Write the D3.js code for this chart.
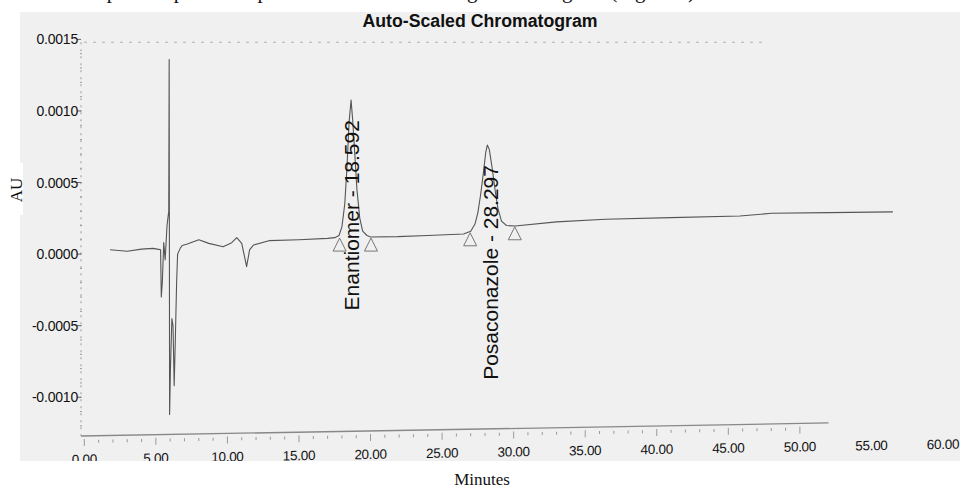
<!DOCTYPE html>
<html>
<head>
<meta charset="utf-8">
<script src="https://cdn.jsdelivr.net/npm/d3@7/dist/d3.min.js"></script>
<style>
  html, body { margin: 0; padding: 0; background: #fff; }
  svg { display: block; }
</style>
</head>
<body>
<svg id="chart" width="960" height="489"></svg>
<script>
// ---------- data ----------
const chartTitle = "Auto-Scaled Chromatogram";
const xLabel = "Minutes";
const yLabel = "AU";
const xTickValues = [0, 5, 10, 15, 20, 25, 30, 35, 40, 45, 50, 55, 60];
const xTickLabels = ["0.00", "5.00", "10.00", "15.00", "20.00", "25.00", "30.00", "35.00", "40.00", "45.00", "50.00", "55.00", "60.00"];
const yTickValues = [0.0015, 0.0010, 0.0005, 0.0000, -0.0005, -0.0010];
const yTickLabels = ["0.0015", "0.0010", "0.0005", "0.0000", "-0.0005", "-0.0010"];

// chromatogram trace: retention time (min) and absorbance (AU)
const times = [1.8, 3.0, 4.0, 4.8, 5.1, 5.33, 5.38, 5.45, 5.55, 5.65, 5.78, 5.9, 5.93, 5.96, 6.02, 6.12, 6.2, 6.28, 6.36, 6.45, 6.52, 6.7, 6.84, 7.2, 8.0, 8.7, 9.7, 10.3, 10.65, 11.0, 11.2, 11.34, 11.55, 11.83, 12.9, 15.0, 17.0, 17.5, 17.8, 18.0, 18.2, 18.35, 18.5, 18.64, 18.75, 18.9, 19.05, 19.25, 19.45, 19.75, 20.0, 21.9, 24.0, 26.5, 27.0, 27.3, 27.5, 27.7, 27.9, 28.05, 28.16, 28.3, 28.5, 28.7, 28.9, 29.15, 29.5, 30.1, 33.0, 36.4, 41.0, 45.8, 48.0, 52.0, 56.5];
const absorbance = [0.00003, 0.00002, 0.000035, 0.00004, 0.000035, 0.00003, -0.0003, -0.0002, 0.00008, -0.00004, 0.0002, 0.0003, 0.00136, -0.00112, -0.0008, -0.00045, -0.0005, -0.00092, -0.0006, -0.0002, 0.0, 0.00004, 0.00006, 0.00007, 0.0001, 0.000075, 0.000052, 0.00008, 0.000115, 0.000075, -0.00002, -0.000088, 0.000029, 0.000064, 0.000094, 0.0001, 0.00011, 0.000115, 0.00013, 0.00019, 0.00035, 0.0006, 0.00092, 0.001076, 0.00094, 0.0007, 0.00045, 0.00025, 0.00016, 0.00013, 0.00012, 0.000122, 0.00013, 0.00014, 0.00016, 0.00021, 0.00029, 0.00042, 0.00058, 0.00071, 0.000762, 0.00073, 0.0006, 0.00045, 0.00032, 0.00023, 0.0002, 0.000196, 0.000225, 0.000244, 0.000255, 0.000266, 0.000285, 0.00029, 0.000295];

// integration start/end markers (triangles)
const markerTimes = [17.84, 20.03, 26.96, 30.08];
const markerValues = [0.000112, 0.000112, 0.000149, 0.000191];

// peak labels
const peakNames = ["Enantiomer", "Posaconazole"];
const peakRetention = [18.592, 28.297];
const peakApex = [0.001076, 0.000762];

// ---------- layout ----------
const svg = d3.select("#chart");
const x = d3.scaleLinear().domain([0, 60]).range([84.3, 943]);
const y = d3.scaleLinear().domain([-0.00127, 0.0015]).range([435.9, 39.4]);
const axisX = 81;
const axisY = 436;

// top cut-off text (page text above the figure; only its lower edge shows)
svg.append("text")
  .attr("x", 695).attr("y", -2)
  .attr("text-anchor", "end")
  .attr("font-family", "Liberation Serif, Times New Roman, serif")
  .attr("font-size", 21)
  .attr("fill", "#111")
  .text("The separated peaks are presented in the following chromatogram (Figure 3)");

// gray panel
svg.append("defs").append("clipPath").attr("id", "clip")
  .append("rect").attr("x", 20).attr("y", 12).attr("width", 940).attr("height", 449);
svg.append("rect").attr("x", 20).attr("y", 12).attr("width", 940).attr("height", 449)
  .attr("fill", "#f0f0f0");

const g = svg.append("g").attr("clip-path", "url(#clip)");

// title
g.append("text")
  .attr("x", 480).attr("y", 27)
  .attr("text-anchor", "middle")
  .attr("font-family", "Liberation Sans, Arial, sans-serif")
  .attr("font-weight", "bold")
  .attr("font-size", 18)
  .attr("textLength", 235)
  .attr("lengthAdjust", "spacingAndGlyphs")
  .attr("fill", "#111")
  .text(chartTitle);

// top dotted frame line
g.append("line")
  .attr("x1", axisX + 3).attr("x2", x(47.5))
  .attr("y1", y(0.00148)).attr("y2", y(0.00148))
  .attr("stroke", "#b0b0b0").attr("stroke-width", 1)
  .attr("stroke-dasharray", "3,6");

// y axis (dotted)
g.append("line")
  .attr("x1", axisX).attr("x2", axisX)
  .attr("y1", y(0.00148)).attr("y2", axisY)
  .attr("stroke", "#999").attr("stroke-width", 1)
  .attr("stroke-dasharray", "2,5");

const yMinor = d3.range(-12, 15).map(d => d * 0.0001);
g.selectAll(".ymin").data(yMinor).enter().append("line")
  .attr("x1", axisX - 1).attr("x2", axisX + 1)
  .attr("y1", d => y(d)).attr("y2", d => y(d))
  .attr("stroke", "#999").attr("stroke-width", 1);

g.selectAll(".ymaj").data(yTickValues).enter().append("line")
  .attr("x1", axisX - 4).attr("x2", axisX)
  .attr("y1", d => y(d)).attr("y2", d => y(d))
  .attr("stroke", "#666").attr("stroke-width", 1);

g.selectAll(".ylab").data(yTickValues).enter().append("text")
  .attr("x", axisX - 3)
  .attr("y", d => y(d))
  .attr("dy", "0.36em")
  .attr("text-anchor", "end")
  .attr("font-family", "Liberation Sans, Arial, sans-serif")
  .attr("font-size", 14)
  .attr("letter-spacing", "-0.2")
  .attr("fill", "#111")
  .text((d, i) => yTickLabels[i]);

// x axis (skewed like the scan)
const xg = g.append("g")
  .attr("transform", `translate(${axisX},${axisY}) skewY(-1) translate(${-axisX},0)`);

xg.append("line")
  .attr("x1", axisX).attr("x2", x(52))
  .attr("y1", 0).attr("y2", 0)
  .attr("stroke", "#888").attr("stroke-width", 1.3);

const xMinor = d3.range(0, 51);
xg.selectAll(".xmin").data(xMinor).enter().append("line")
  .attr("x1", d => x(d)).attr("x2", d => x(d))
  .attr("y1", d => d % 5 === 0 ? 3 : 4)
  .attr("y2", d => d % 5 === 0 ? 10 : 7)
  .attr("stroke", "#999").attr("stroke-width", 1);

xg.selectAll(".xlab").data(xTickValues).enter().append("text")
  .attr("x", d => x(d))
  .attr("y", 28)
  .attr("text-anchor", "middle")
  .attr("font-family", "Liberation Sans, Arial, sans-serif")
  .attr("font-size", 13.5)
  .attr("letter-spacing", "-0.3")
  .attr("fill", "#111")
  .text((d, i) => xTickLabels[i]);

// chromatogram trace
const pts = times.map((t, i) => [t, absorbance[i]]);
const line = d3.line().x(d => x(d[0])).y(d => y(d[1]));
g.append("path")
  .datum(pts)
  .attr("d", line)
  .attr("fill", "none")
  .attr("stroke", "#555")
  .attr("stroke-width", 1.1)
  .attr("stroke-linejoin", "round");

// integration markers
g.selectAll(".mark").data(markerTimes).enter().append("path")
  .attr("d", (t, i) => {
    const px = x(t), py = y(markerValues[i]);
    return `M${px},${py} L${px - 6.5},${py + 13} L${px + 6.5},${py + 13} Z`;
  })
  .attr("fill", "none")
  .attr("stroke", "#777")
  .attr("stroke-width", 1);

// peak labels
g.selectAll(".plab").data(peakNames).enter().append("text")
  .attr("transform", (d, i) => `translate(${x(peakRetention[i]) + 9},${y(peakApex[i]) + 20}) rotate(-90)`)
  .attr("text-anchor", "end")
  .attr("font-family", "Liberation Sans, Arial, sans-serif")
  .attr("font-size", 21)
  .attr("fill", "#111")
  .text((d, i) => `${d} - ${peakRetention[i].toFixed(3)}`);

// AU label with white box
svg.append("rect").attr("x", 0).attr("y", 163).attr("width", 23).attr("height", 52).attr("fill", "#fff");
svg.append("text")
  .attr("transform", "translate(22,190) rotate(-90)")
  .attr("text-anchor", "middle")
  .attr("font-family", "Liberation Serif, Times New Roman, serif")
  .attr("font-size", 17)
  .attr("fill", "#111")
  .text(yLabel);

// x label
svg.append("text")
  .attr("x", 482).attr("y", 485)
  .attr("text-anchor", "middle")
  .attr("font-family", "Liberation Serif, Times New Roman, serif")
  .attr("font-size", 17)
  .attr("fill", "#111")
  .text(xLabel);
</script>
</body>
</html>
